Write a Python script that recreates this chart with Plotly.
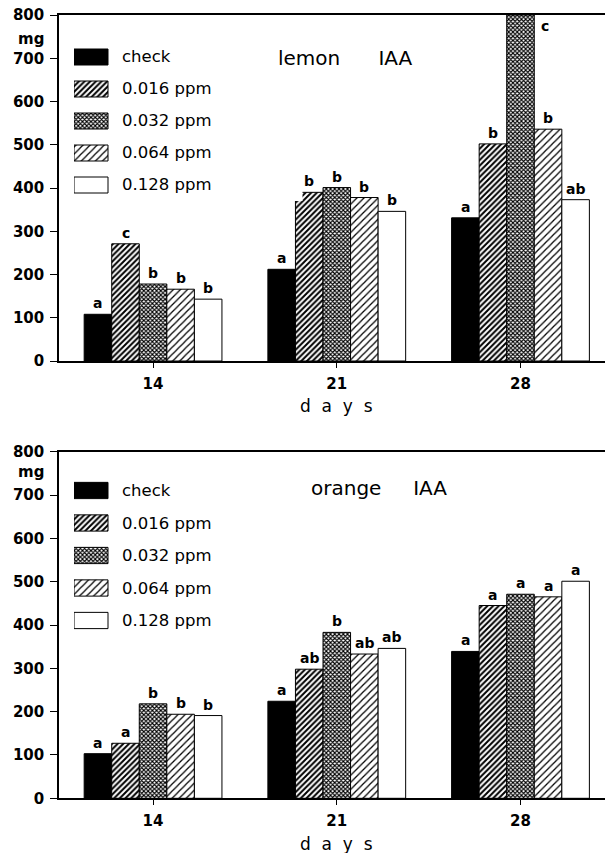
import plotly.graph_objects as go

# ---------------- data ----------------
DAYS = ["14", "21", "28"]
SERIES = ["check", "0.016 ppm", "0.032 ppm", "0.064 ppm", "0.128 ppm"]

LEMON = [
    [108, 212, 331],   # check
    [271, 390, 502],   # 0.016
    [178, 401, 800],   # 0.032
    [166, 378, 536],   # 0.064
    [143, 346, 373],   # 0.128
]
LEMON_LET = [
    ["a", "a", "a"],
    ["c", "b", "b"],
    ["b", "b", "c"],
    ["b", "b", "b"],
    ["b", "b", "ab"],
]
ORANGE = [
    [103, 224, 339],
    [127, 298, 445],
    [218, 383, 471],
    [194, 333, 465],
    [191, 346, 501],
]
ORANGE_LET = [
    ["a", "a", "a"],
    ["a", "ab", "a"],
    ["b", "b", "a"],
    ["b", "ab", "a"],
    ["b", "ab", "a"],
]
YTICKS = [0, 100, 200, 300, 400, 500, 600, 700, 800]

# ---------------- styles ----------------
W, H = 605, 853
FONT = "DejaVu Sans"
STYLES = [
    dict(color="black", pattern=dict(shape="")),
    dict(color="white", pattern=dict(shape="/", size=4, solidity=0.5, fgcolor="black", bgcolor="white")),
    dict(color="white", pattern=dict(shape="x", size=3, solidity=0.6, fgcolor="black", bgcolor="white")),
    dict(color="white", pattern=dict(shape="/", size=5, solidity=0.25, fgcolor="black", bgcolor="white")),
    dict(color="white", pattern=dict(shape="")),
]
BARGAP = 0.25
XR = [-0.512, 2.46]
YMAX = 800


def py(px):
    return 1 - px / H


def pxx(px):
    return px / W


fig = go.Figure()

panels = [
    dict(vals=LEMON, lets=LEMON_LET, xa="x", ya="y", dom=[py(361), py(15)],
         title="lemon" + "\u00a0" * 6 + "IAA", tx=345, ty=58, mgy=39, daysy=406,
         leg=("x3", "y3", [py(201), py(41)])),
    dict(vals=ORANGE, lets=ORANGE_LET, xa="x2", ya="y2", dom=[py(798.3), py(451.7)],
         title="orange" + "\u00a0" * 5 + "IAA", tx=379, ty=488, mgy=472, daysy=844,
         leg=("x4", "y4", [py(636.75), py(474.25)])),
]

annotations = []
n = len(SERIES)
slot = (1 - BARGAP) / n
for p in panels:
    lx, ly, ldom = p["leg"]
    for i, name in enumerate(SERIES):
        st = STYLES[i]
        mk = dict(color=st["color"], pattern=st["pattern"], line=dict(color="black", width=1))
        fig.add_trace(go.Bar(
            x=DAYS, y=p["vals"][i], name=name, xaxis=p["xa"], yaxis=p["ya"],
            marker=mk, showlegend=False,
        ))
        # legend swatch drawn as an inset bar for this series
        fig.add_trace(go.Bar(
            y=[name], x=[1], orientation="h", width=0.5, xaxis=lx, yaxis=ly,
            marker=mk, showlegend=False, hoverinfo="skip",
        ))
        annotations.append(dict(x=1, y=name, xref=lx, yref=ly, text=name, showarrow=False,
                                xanchor="left", yanchor="middle", xshift=12,
                                font=dict(family=FONT, size=16.5, color="black")))
        for j, v in enumerate(p["vals"][i]):
            xc = j + (i - (n - 1) / 2) * slot
            if v >= YMAX * 0.98:
                annotations.append(dict(x=xc + slot * 0.9, y=v, xref=p["xa"], yref=p["ya"],
                                        text=p["lets"][i][j], showarrow=False,
                                        xanchor="center", yanchor="top", yshift=-1,
                                        font=dict(family=FONT, size=14, color="black", weight="bold")))
            else:
                annotations.append(dict(x=xc, y=v, xref=p["xa"], yref=p["ya"],
                                        text=p["lets"][i][j], showarrow=False,
                                        xanchor="center", yanchor="bottom", yshift=1,
                                        font=dict(family=FONT, size=14, color="black", weight="bold")))
    # panel title
    annotations.append(dict(x=pxx(p["tx"]), y=py(p["ty"]), xref="paper", yref="paper",
                            text=p["title"], showarrow=False, xanchor="center", yanchor="middle",
                            font=dict(family=FONT, size=20, color="black")))
    # mg unit label
    annotations.append(dict(x=pxx(31), y=py(p["mgy"]), xref="paper", yref="paper",
                            text="mg", showarrow=False, xanchor="center", yanchor="middle",
                            font=dict(family=FONT, size=15, color="black", weight="bold")))
    # x axis title
    annotations.append(dict(x=1, y=py(p["daysy"]), xref=p["xa"], yref="paper",
                            text="\u00a0\u00a0".join("days"), showarrow=False,
                            xanchor="center", yanchor="middle",
                            font=dict(family=FONT, size=17, color="black")))

axis_common = dict(showgrid=False, zeroline=False, showline=True, linecolor="black",
                   linewidth=1.5, ticks="outside", tickcolor="black", tickwidth=1.2,
                   tickfont=dict(family=FONT, size=15, color="black", weight="bold"))
XDOM = [pxx(59), 1]
layout = dict(
    width=W, height=H, margin=dict(l=0, r=0, t=0, b=0),
    paper_bgcolor="white", plot_bgcolor="white", template="none",
    barmode="group", bargap=BARGAP, bargroupgap=0,
    annotations=annotations, showlegend=False,
)
for k, p in enumerate(panels):
    sx = "" if k == 0 else "2"
    layout["xaxis" + sx] = dict(axis_common, domain=XDOM, type="category", categoryorder="array",
                                categoryarray=DAYS, range=XR, mirror=True, ticklen=5,
                                ticklabelstandoff=3, anchor="y" + sx, automargin=False)
    layout["yaxis" + sx] = dict(axis_common, domain=p["dom"], range=[0, YMAX], tickvals=YTICKS,
                                ticklen=7, anchor="x" + sx, automargin=False, ticklabelstandoff=3)
    lx, ly, ldom = p["leg"]
    layout["xaxis" + lx[1:]] = dict(domain=[pxx(74), 0.5], range=[0, (0.5 * W - 74) / 34],
                                    visible=False, anchor=ly, fixedrange=True)
    layout["yaxis" + ly[1:]] = dict(domain=ldom, type="category", categoryorder="array",
                                    categoryarray=SERIES, range=[n - 0.5, -0.5],
                                    visible=False, anchor=lx, fixedrange=True)

fig.update_layout(**layout)
fig.write_html("out.html")
